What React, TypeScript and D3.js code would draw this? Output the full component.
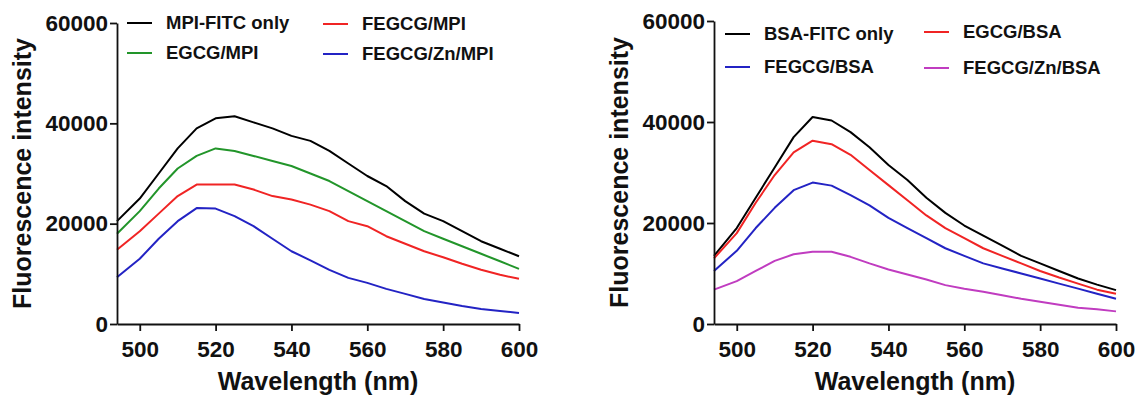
// Two fluorescence emission spectra panels (MPI and BSA), Prism-style axes.
import { useEffect, useRef } from "react";
import * as d3 from "d3";

const WAVELENGTHS = [494, 500, 505, 510, 515, 520, 525, 530, 535, 540, 545, 550, 555, 560, 565, 570, 575, 580, 585, 590, 595, 600];

// Left panel (MPI)
const MPI_FITC = [20500, 25000, 30000, 35000, 39000, 41000, 41400, 40200, 39000, 37500, 36500, 34500, 32000, 29500, 27500, 24500, 22000, 20500, 18500, 16500, 15000, 13500];
const EGCG_MPI = [18000, 22500, 27000, 31000, 33500, 35000, 34500, 33500, 32500, 31500, 30000, 28500, 26500, 24500, 22500, 20500, 18500, 17000, 15500, 14000, 12500, 11000];
const FEGCG_MPI = [14800, 18500, 22000, 25500, 27800, 27800, 27800, 26800, 25500, 24800, 23800, 22500, 20500, 19500, 17500, 16000, 14500, 13300, 12000, 10800, 9800, 9000];
const FEGCG_ZN_MPI = [9300, 13000, 17000, 20500, 23100, 23000, 21500, 19500, 17000, 14500, 12700, 10800, 9200, 8200, 7000, 6000, 5000, 4300, 3600, 3000, 2600, 2200];

// Right panel (BSA)
const BSA_FITC = [13500, 19000, 25000, 31000, 37000, 41000, 40300, 38000, 35000, 31500, 28500, 25000, 22000, 19500, 17500, 15500, 13500, 12000, 10500, 9000, 7800, 6700];
const EGCG_BSA = [13000, 18000, 24000, 29500, 34000, 36300, 35600, 33500, 30500, 27500, 24500, 21500, 19000, 17000, 15000, 13500, 12000, 10500, 9200, 8000, 6800, 6000];
const FEGCG_BSA = [10500, 14500, 19000, 23000, 26500, 28000, 27400, 25500, 23500, 21000, 19000, 17000, 15000, 13500, 12000, 11000, 10000, 9000, 8000, 7000, 6000, 5000];
const FEGCG_ZN_BSA = [6800, 8500, 10500, 12500, 13800, 14300, 14300, 13300, 12000, 10800, 9800, 8800, 7700, 7000, 6400, 5700, 5000, 4400, 3800, 3200, 2900, 2500];

const Y_TICKS = [0, 20000, 40000, 60000];
const X_TICKS = [500, 520, 540, 560, 580, 600];

const FONT = "'Liberation Sans', Arial, Helvetica, sans-serif";

type Series = { name: string; values: number[]; color: string };

type Panel = {
  left: number;
  top: number;
  series: Series[];
  legendCols: number[]; // x offsets of legend line start, relative to the y axis
  legendRows: number[][]; // y of each row, per column
};

const PANELS: Panel[] = [
  {
    left: 117,
    top: 23,
    series: [
      { name: "MPI-FITC only", values: MPI_FITC, color: "#000000" },
      { name: "EGCG/MPI", values: EGCG_MPI, color: "#22952a" },
      { name: "FEGCG/MPI", values: FEGCG_MPI, color: "#f02424" },
      { name: "FEGCG/Zn/MPI", values: FEGCG_ZN_MPI, color: "#2323c4" },
    ],
    legendCols: [10, 206],
    legendRows: [
      [23, 53],
      [24, 54],
    ],
  },
  {
    left: 714,
    top: 21,
    series: [
      { name: "BSA-FITC only", values: BSA_FITC, color: "#000000" },
      { name: "FEGCG/BSA", values: FEGCG_BSA, color: "#2323c4" },
      { name: "EGCG/BSA", values: EGCG_BSA, color: "#f02424" },
      { name: "FEGCG/Zn/BSA", values: FEGCG_ZN_BSA, color: "#c03cc0" },
    ],
    legendCols: [11, 210],
    legendRows: [
      [34, 67],
      [32, 68],
    ],
  },
];

const W = 1142;
const H = 397;
const PLOT_W = 402;
const BOTTOM = 324;

export default function App() {
  const svgRef = useRef<SVGSVGElement | null>(null);

  useEffect(() => {
    const svg = d3.select(svgRef.current);
    svg.selectAll("*").remove();

    PANELS.forEach((p) => {
      const x = d3.scaleLinear().domain([494, 600]).range([p.left, p.left + PLOT_W]);
      const y = d3.scaleLinear().domain([0, 60000]).range([BOTTOM, p.top]);
      const g = svg.append("g");

      // curves
      const line = d3
        .line<number>()
        .x((_, i) => x(WAVELENGTHS[i]))
        .y((v) => y(v));
      p.series.forEach((s) => {
        g.append("path")
          .attr("d", line(s.values))
          .attr("fill", "none")
          .attr("stroke", s.color)
          .attr("stroke-width", 2)
          .attr("stroke-linejoin", "round");
      });

      // axes
      const ax = g
        .append("g")
        .attr("transform", `translate(0,${BOTTOM})`)
        .call(d3.axisBottom(x).tickValues(X_TICKS).tickSize(7).tickSizeOuter(0));
      const ay = g
        .append("g")
        .attr("transform", `translate(${p.left},0)`)
        .call(d3.axisLeft(y).tickValues(Y_TICKS).tickSize(7).tickPadding(2).tickSizeOuter(0).tickFormat(d3.format("d")));
      [ax, ay].forEach((a) => {
        a.select(".domain").attr("stroke", "#111").attr("stroke-width", 1.8);
        a.selectAll(".tick line").attr("stroke", "#111").attr("stroke-width", 1.8);
        a.selectAll("text")
          .attr("font-family", FONT)
          .attr("font-weight", "bold")
          .attr("font-size", 22.5)
          .attr("fill", "#111");
      });
      ax.selectAll("text").attr("y", 33).attr("dy", 0);

      // axis titles
      g.append("text")
        .attr("x", p.left + PLOT_W / 2)
        .attr("y", 390)
        .attr("text-anchor", "middle")
        .attr("font-family", FONT)
        .attr("font-weight", "bold")
        .attr("font-size", 25)
        .attr("fill", "#111")
        .text("Wavelength (nm)");
      g.append("text")
        .attr("transform", `translate(${p.left - 86},${(BOTTOM + p.top) / 2}) rotate(-90)`)
        .attr("text-anchor", "middle")
        .attr("font-family", FONT)
        .attr("font-weight", "bold")
        .attr("font-size", 25)
        .attr("fill", "#111")
        .text("Fluorescence intensity");

      // legend
      p.series.forEach((s, i) => {
        const col = Math.floor(i / 2);
        const row = i % 2;
        const lx = p.left + p.legendCols[col];
        const ly = p.legendRows[col][row];
        g.append("line")
          .attr("x1", lx)
          .attr("x2", lx + 25)
          .attr("y1", ly)
          .attr("y2", ly)
          .attr("stroke", s.color)
          .attr("stroke-width", 2);
        g.append("text")
          .attr("x", lx + 39)
          .attr("y", ly)
          .attr("dy", "0.35em")
          .attr("font-family", FONT)
          .attr("font-weight", "bold")
          .attr("font-size", 18.5)
          .attr("fill", "#111")
          .text(s.name);
      });
    });
  }, []);

  return (
    <svg
      ref={svgRef}
      width={W}
      height={H}
      viewBox={`0 0 ${W} ${H}`}
      style={{ position: "absolute", left: 0, top: 0, background: "#fff" }}
    />
  );
}
